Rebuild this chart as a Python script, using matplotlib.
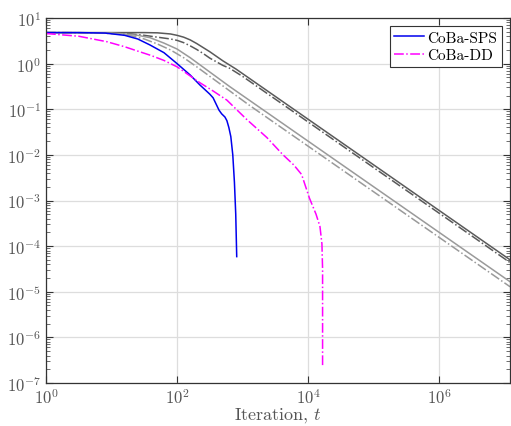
import matplotlib
matplotlib.use("Agg")
import matplotlib.pyplot as plt
import numpy as np
from matplotlib.ticker import LogLocator, FixedLocator, NullLocator

plt.rcParams['mathtext.fontset'] = 'cm'
plt.rcParams['font.family'] = ['cmr10', 'DejaVu Serif']
plt.rcParams['axes.formatter.use_mathtext'] = True

# values, as log10 of (iteration t, value)
sps_lt = [0, 0.5, 0.9, 1.2, 1.4, 1.585, 1.8, 2.0, 2.2, 2.35, 2.5, 2.55, 2.6,
          2.64, 2.68, 2.73, 2.76, 2.79, 2.82, 2.85, 2.875, 2.895, 2.91]
sps_lf = [0.68, 0.68, 0.67, 0.62, 0.54, 0.41, 0.24, 0.0, -0.25, -0.47, -0.67,
          -0.75, -0.9, -1.02, -1.1, -1.17, -1.25, -1.4, -1.6, -2.0, -2.6,
          -3.3, -4.23]

dd_lt = [0, 0.5, 0.93, 1.2, 1.43, 1.6, 1.8, 2.0, 2.2, 2.35, 2.55, 2.76, 3.06,
         3.37, 3.61, 3.78, 3.9, 4.02, 4.12, 4.18, 4.21, 4.22, 4.22]
dd_lf = [0.66, 0.6, 0.48, 0.37, 0.26, 0.18, 0.07, -0.07, -0.27, -0.42, -0.6,
         -0.8, -1.22, -1.62, -1.99, -2.22, -2.43, -2.95, -3.3, -3.57, -3.95,
         -4.5, -6.65]

# dark solid reference
ref1_lt = [0, 1.5, 1.7, 1.9, 2.0, 2.1, 2.2, 2.3, 2.4, 2.5, 2.6, 2.7, 2.8,
           2.9, 3.0, 3.2, 7.08]
ref1_lf = [0.68, 0.68, 0.675, 0.65, 0.62, 0.58, 0.52, 0.44, 0.35, 0.26, 0.16,
           0.06, -0.03, -0.12, -0.22, -0.42, -4.30]

# dark dash-dot reference
ref2_lt = [0, 0.8, 1.1, 1.3, 1.5, 1.7, 1.9, 2.0, 2.1, 2.2, 2.3, 2.4, 2.5,
           2.6, 2.7, 2.8, 2.9, 3.0, 7.08]
ref2_lf = [0.68, 0.675, 0.665, 0.65, 0.62, 0.58, 0.54, 0.51, 0.46, 0.39, 0.31,
           0.22, 0.12, 0.04, -0.04, -0.1, -0.19, -0.28, -4.36]

# light solid reference
ref3_lt = [0, 0.8, 1.0, 1.2, 1.4, 1.585, 1.8, 2.0, 2.2, 2.4, 2.6, 2.8, 3.0,
           3.2, 7.08]
ref3_lf = [0.68, 0.675, 0.67, 0.65, 0.62, 0.57, 0.45, 0.32, 0.13, -0.08,
           -0.29, -0.5, -0.7, -0.9, -4.78]

# light dash-dot reference
ref4_lt = [0, 0.6, 0.9, 1.1, 1.3, 1.5, 1.7, 1.9, 2.1, 2.3, 2.5, 2.7, 2.9,
           3.1, 7.08]
ref4_lf = [0.68, 0.675, 0.665, 0.65, 0.61, 0.54, 0.43, 0.3, 0.13, -0.07,
           -0.28, -0.49, -0.7, -0.91, -4.89]

xticks = [1, 1e2, 1e4, 1e6]
yticks = [1e-7, 1e-6, 1e-5, 1e-4, 1e-3, 1e-2, 1e-1, 1e0, 1e1]


def pw(a):
    return np.power(10.0, a)


fig = plt.figure(figsize=(5.11, 4.27), dpi=100)
ax = fig.add_axes([0.090, 0.1007, 0.908, 0.8548])

dark = '#5a5a5a'
light = '#9a9a9a'
ax.plot(pw(ref1_lt), pw(ref1_lf), '-', color=dark, lw=1.1)
ax.plot(pw(ref2_lt), pw(ref2_lf), '-.', color=dark, lw=1.1)
ax.plot(pw(ref3_lt), pw(ref3_lf), '-', color=light, lw=1.1)
ax.plot(pw(ref4_lt), pw(ref4_lf), '-.', color=light, lw=1.1)
ax.plot(pw(sps_lt), pw(sps_lf), '-', color='#0000ee', lw=1.1, label='CoBa-SPS')
ax.plot(pw(dd_lt), pw(dd_lf), '-.', color='#ff00ff', lw=1.1, label='CoBa-DD')

ax.set_xscale('log')
ax.set_yscale('log')
ax.set_xlim(1, 1.2e7)
ax.set_ylim(1e-7, 1e1)

ax.xaxis.set_major_locator(FixedLocator(xticks))
ax.xaxis.set_minor_locator(NullLocator())
ax.yaxis.set_major_locator(FixedLocator(yticks))
ax.yaxis.set_minor_locator(LogLocator(base=10, subs=range(2, 10), numticks=20))

ax.grid(True, which='major', color='#dddddd', lw=0.9)
ax.set_axisbelow(True)

ax.tick_params(which='both', direction='in', top=True, right=True,
               colors='#333333', labelcolor='#555555', labelsize=12)
ax.tick_params(which='major', length=5, width=0.8)
ax.tick_params(which='minor', length=3, width=0.5)
ax.tick_params(axis='x', pad=3)
for s in ax.spines.values():
    s.set_color('#333333')
    s.set_linewidth(0.9)

ax.set_xlabel('Iteration, $t$', fontsize=13, color='#555555', labelpad=-1)

leg = ax.legend(loc='upper right', fontsize=11, fancybox=False, framealpha=1,
                edgecolor='#333333', handlelength=1.95, handletextpad=0.2,
                borderpad=0.3, labelspacing=0.25, borderaxespad=0.55)
leg.get_frame().set_linewidth(0.8)

fig.savefig('out.png', dpi=100)
